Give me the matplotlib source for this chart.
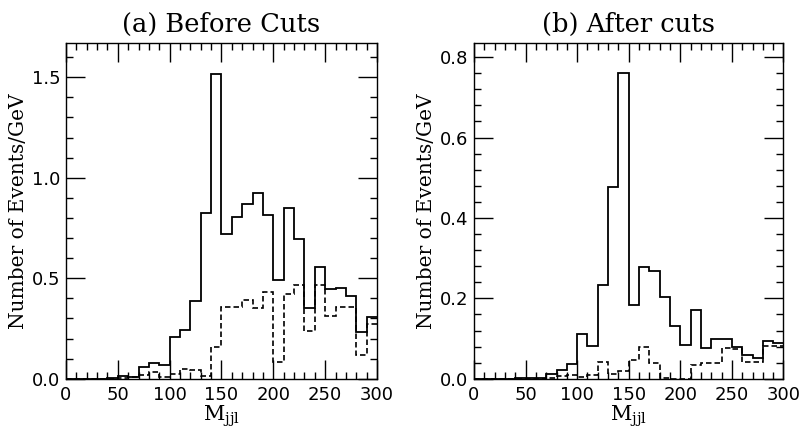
import matplotlib.pyplot as plt
import numpy as np
from matplotlib.ticker import MultipleLocator, FormatStrFormatter

# Bin edges for M_jjl (GeV), 10 GeV bins
edges = np.arange(0, 310, 10)

# (a) Before cuts: values per 10 GeV bin
before_solid = [0, 0, 0, 0, 0.005, 0.012, 0.01, 0.057, 0.078, 0.068,
                0.21, 0.245, 0.385, 0.823, 1.518, 0.72, 0.805, 0.867, 0.923, 0.817,
                0.493, 0.85, 0.694, 0.352, 0.555, 0.448, 0.45, 0.41, 0.235, 0.305]
before_dashed = [0, 0, 0, 0, 0, 0.005, 0.008, 0.02, 0.035, 0.01,
                 0.025, 0.05, 0.043, 0.015, 0.157, 0.357, 0.355, 0.39, 0.352, 0.432,
                 0.082, 0.423, 0.465, 0.24, 0.465, 0.31, 0.355, 0.355, 0.118, 0.273]

# (b) After cuts
after_solid = [0, 0, 0, 0, 0.002, 0.002, 0.002, 0.011, 0.021, 0.036,
               0.112, 0.082, 0.234, 0.478, 0.760, 0.184, 0.277, 0.269, 0.204, 0.132,
               0.083, 0.17, 0.076, 0.098, 0.1, 0.078, 0.058, 0.051, 0.093, 0.09]
after_dashed = [0, 0, 0, 0, 0, 0, 0, 0.003, 0.006, 0.01,
                0.005, 0.01, 0.042, 0.012, 0.02, 0.048, 0.079, 0.04, 0.002, 0.0,
                0.0, 0.035, 0.04, 0.04, 0.076, 0.075, 0.041, 0.041, 0.081, 0.081]

titles = ["(a) Before Cuts", "(b) After cuts"]
ymaxes = [1.67, 0.835]
ymajor = [0.5, 0.2]
yminor = [0.1, 0.04]

fig = plt.figure(figsize=(7.99, 4.41), dpi=100)
ax1 = fig.add_axes([0.0826, 0.141, 0.3892, 0.7615])
ax2 = fig.add_axes([0.5932, 0.141, 0.3874, 0.7615])

panels = [(ax1, before_solid, before_dashed), (ax2, after_solid, after_dashed)]

for i, (ax, solid, dashed) in enumerate(panels):
    ax.stairs(solid, edges, color="black", lw=1.3, baseline=None)
    ax.stairs(dashed, edges, color="black", lw=1.2, linestyle=(0, (3.3, 1.8)), baseline=None)

    ax.set_xlim(0, 300)
    ax.set_ylim(0, ymaxes[i])

    # ticks on all four sides, pointing inward
    ax.xaxis.set_major_locator(MultipleLocator(50))
    ax.xaxis.set_minor_locator(MultipleLocator(10))
    ax.yaxis.set_major_locator(MultipleLocator(ymajor[i]))
    ax.yaxis.set_minor_locator(MultipleLocator(yminor[i]))
    ax.yaxis.set_major_formatter(FormatStrFormatter("%.1f"))
    ax.tick_params(which="both", direction="in", top=True, right=True, width=1.0)
    ax.tick_params(which="major", length=14, labelsize=13)
    ax.tick_params(axis="x", which="major", pad=5)
    ax.tick_params(axis="y", which="major", pad=4)
    ax.tick_params(which="minor", length=5)
    for s in ax.spines.values():
        s.set_linewidth(1.0)

    ax.set_title(titles[i], fontsize=18.5, family="DejaVu Serif", pad=8)
    ax.set_xlabel(r"$\mathregular{M_{jjl}}$", fontsize=15, family="DejaVu Serif", labelpad=0)
    ax.set_ylabel("Number of Events/GeV", fontsize=14.5, family="DejaVu Serif", labelpad=3)

fig.savefig("out.png", dpi=100)
